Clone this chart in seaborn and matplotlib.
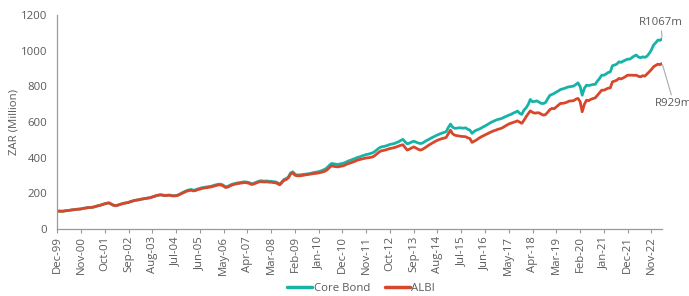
import matplotlib
matplotlib.use("Agg")
import matplotlib.pyplot as plt
import numpy as np
import pandas as pd
import seaborn as sns

# monthly values, Dec-99 .. Apr-23 (ZAR million)
START = "1999-12-01"
CORE_BOND = [
    100,
    101, 100, 101, 103, 104, 106, 108, 109, 111, 112, 113, 116,
    118, 120, 121, 122, 124, 128, 131, 134, 138, 142, 145, 147,
    140, 134, 131, 134, 138, 142, 145, 147, 150, 154, 158, 161,
    163, 165, 168, 170, 172, 174, 176, 180, 184, 188, 191, 192,
    190, 189, 190, 191, 188, 187, 188, 192, 198, 205, 211, 216,
    220, 222, 218, 220, 225, 228, 232, 234, 236, 238, 240, 243,
    247, 250, 252, 251, 245, 237, 240, 246, 252, 255, 258, 260,
    262, 264, 265, 263, 260, 254, 257, 262, 267, 271, 270, 269,
    270, 268, 268, 266, 265, 260, 252, 265, 279, 283, 293, 315,
    321, 308, 303, 304, 305, 307, 308, 310, 312, 315, 318, 320,
    322, 326, 331, 336, 345, 358, 368, 366, 364, 362, 366, 368,
    372, 378, 383, 387, 392, 396, 402, 405, 410, 414, 418, 420,
    424, 428, 435, 445, 455, 461, 463, 466, 470, 475, 477, 480,
    485, 490, 497, 503, 490, 478, 482, 488, 493, 488, 483, 480,
    482, 490, 497, 503, 510, 516, 522, 528, 533, 538, 542, 546,
    570, 589, 572, 565, 566, 568, 567, 566, 568, 560, 555, 537,
    548, 555, 559, 565, 572, 578, 585, 592, 600, 605, 611, 615,
    618, 622, 628, 633, 639, 643, 650, 655, 662, 650, 643, 667,
    680, 700, 727, 714, 716, 719, 712, 705, 704, 710, 730, 750,
    755, 761, 768, 775, 783, 786, 790, 795, 798, 800, 802, 810,
    820, 800, 751, 790, 807, 805, 808, 811, 812, 830, 845, 863,
    863, 870, 878, 882, 916, 920, 925, 938, 935, 942, 948, 953,
    953, 962, 970, 976, 965, 961, 966, 963, 970, 985, 1005, 1032,
    1045, 1060, 1058, 1067,
]
ALBI = [
    100,
    101, 100, 101, 103, 104, 106, 108, 109, 111, 112, 113, 116,
    118, 120, 121, 122, 124, 128, 131, 134, 138, 142, 145, 147,
    140, 134, 131, 134, 138, 142, 145, 147, 150, 154, 158, 161,
    163, 165, 168, 170, 172, 174, 176, 180, 184, 188, 191, 192,
    190, 188, 189, 190, 187, 186, 187, 190, 196, 202, 208, 213,
    216, 218, 214, 216, 221, 224, 228, 230, 232, 234, 236, 239,
    243, 246, 248, 247, 241, 233, 236, 242, 248, 251, 254, 256,
    258, 260, 261, 259, 256, 250, 253, 258, 263, 266, 265, 264,
    265, 263, 263, 261, 260, 255, 248, 261, 274, 278, 288, 309,
    316, 302, 299, 299, 300, 302, 304, 306, 308, 310, 312, 313,
    315, 318, 321, 325, 333, 345, 355, 352, 350, 349, 352, 354,
    358, 364, 368, 372, 377, 381, 387, 390, 393, 396, 399, 400,
    402, 405, 412, 422, 432, 439, 441, 444, 448, 452, 454, 457,
    461, 466, 470, 473, 458, 443, 448, 455, 461, 455, 448, 443,
    447, 455, 462, 471, 478, 485, 492, 498, 503, 507, 510, 514,
    535, 555, 535, 527, 524, 522, 520, 519, 518, 512, 508, 486,
    493, 500, 508, 516, 522, 528, 534, 540, 546, 551, 555, 560,
    563, 568, 575, 582, 589, 594, 598, 602, 607, 600, 593, 610,
    630, 648, 663, 655, 650, 652, 652, 645, 639, 642, 655, 670,
    677, 675, 685, 695, 705, 705, 708, 712, 718, 719, 720, 728,
    733, 715, 658, 700, 723, 720, 728, 732, 736, 750, 765, 779,
    779, 785, 790, 792, 826, 830, 835, 845, 842, 848, 855, 863,
    863, 863, 862, 863, 857, 854, 860, 858, 870, 882, 895, 910,
    918, 925, 922, 929,
]
SERIES = ["Core Bond", "ALBI"]
COLORS = ["#17B3A6", "#D8472B"]
END_LABELS = ["R1067m", "R929m"]
TICK_STEP = 11

dates = pd.date_range(START, periods=len(CORE_BOND), freq="MS")
df = pd.DataFrame({"date": dates, "Core Bond": CORE_BOND, "ALBI": ALBI})
long = df.melt(id_vars="date", var_name="series", value_name="value")

sns.set_theme(style="white")
plt.rcParams["font.family"] = ["Open Sans", "DejaVu Sans"]
grey = "#5a5a5a"
fs = 8.2

fig = plt.figure(figsize=(6.89, 2.96), dpi=100)
ax = fig.add_axes([0.083, 0.226, 0.878, 0.723])
sns.lineplot(data=long, x="date", y="value", hue="series", hue_order=SERIES,
             palette=COLORS, linewidth=2.0, ax=ax, legend=False)

ax.set_xlim(dates[0], dates[-1])
ax.set_ylim(0, 1200)
ax.set_yticks(np.arange(0, 1201, 200))
ticks = dates[::TICK_STEP]
ax.set_xticks(ticks)
ax.set_xticklabels([d.strftime("%b-%y") for d in ticks], rotation=90,
                   fontsize=fs, color=grey)
ax.tick_params(axis="y", labelsize=fs, labelcolor=grey, length=0, pad=7)
ax.tick_params(axis="x", length=3, width=0.8, color="#999999", pad=2, bottom=True)
ax.set_xlabel("")
ax.set_ylabel("ZAR (Million)", fontsize=fs, color=grey, labelpad=1)
for side in ["top", "right"]:
    ax.spines[side].set_visible(False)
for side in ["left", "bottom"]:
    ax.spines[side].set_color("#9a9a9a")
    ax.spines[side].set_linewidth(0.9)

ax.annotate(END_LABELS[0], xy=(dates[-1], CORE_BOND[-1]), xytext=(-1, 8),
            textcoords="offset points", ha="center", va="bottom", fontsize=fs,
            color=grey, annotation_clip=False,
            arrowprops=dict(arrowstyle="-", color="#aaaaaa", lw=0.8, shrinkA=0, shrinkB=1))
ax.annotate(END_LABELS[1], xy=(dates[-1], ALBI[-1]), xytext=(-5, -25),
            textcoords="offset points", ha="left", va="top", fontsize=fs,
            color=grey, annotation_clip=False,
            arrowprops=dict(arrowstyle="-", color="#aaaaaa", lw=0.8, shrinkA=0, shrinkB=1))

handles = [plt.Line2D([], [], color=c, lw=2.5) for c in COLORS]
fig.legend(handles, SERIES, loc="center", bbox_to_anchor=(0.524, 0.025), ncol=2,
           frameon=False, fontsize=fs, handlelength=2.2, handletextpad=0.1,
           columnspacing=1.3, labelcolor=grey)

fig.savefig("out.png", dpi=100)
